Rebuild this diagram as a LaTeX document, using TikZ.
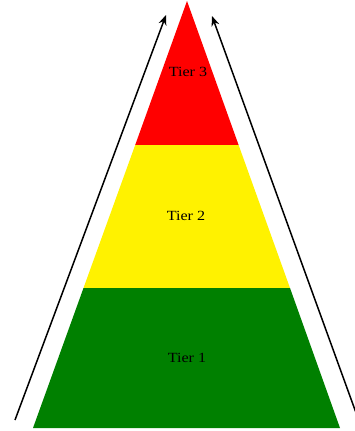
\documentclass[tikz,border=0pt]{standalone}
\usepackage{fontspec}
\setmainfont{Liberation Serif}
\usetikzlibrary{arrows.meta}
\definecolor{tgreen}{RGB}{0,128,0}
\begin{document}
\begin{tikzpicture}[x=1pt,y=-1pt,
  tierlabel/.style={font=\fontsize{14}{16}\selectfont, inner sep=0pt, xscale=1.15},
  flow/.style={draw=black, line width=1.5pt, -{Stealth[length=10pt,width=8pt]}}]
\useasboundingbox (0,0) rectangle (355,431);
\begin{scope}
\clip (0,0) rectangle (355,431);
\fill[red] (187,1) -- (238.6,145) -- (135.2,145) -- cycle;
\fill[yellow] (135.2,145) -- (238.6,145) -- (290,288) -- (83.5,288) -- cycle;
\fill[tgreen] (83.5,288) -- (290,288) -- (340,428) -- (33,428) -- cycle;
\coordinate (lt) at (15,420);
\coordinate (lh) at (166,15);
\coordinate (rt) at (359,421);
\coordinate (rh) at (212,16);
\draw[flow] (lt) -- (lh);
\draw[flow] (rt) -- (rh);
\end{scope}
\node[tierlabel] (t3) at (188,72) {Tier 3};
\node[tierlabel] (t2) at (186,216) {Tier 2};
\node[tierlabel] (t1) at (187,358) {Tier 1};
\end{tikzpicture}
\end{document}
